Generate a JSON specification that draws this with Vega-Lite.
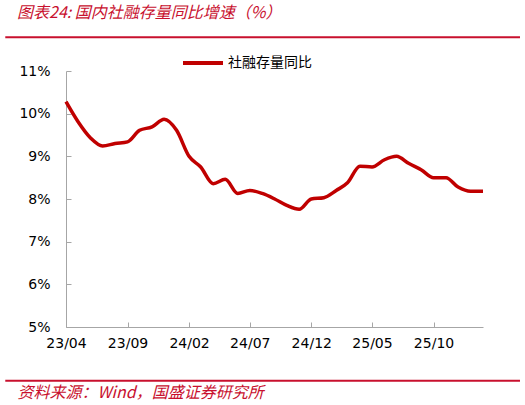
{
  "$schema": "https://vega.github.io/schema/vega-lite/v6.json",
  "width": 417,
  "height": 256,
  "autosize": {"type": "none"},
  "padding": {"left": 66, "top": 71, "right": 42, "bottom": 78},
  "background": "white",
  "config": {"view": {"stroke": null}, "font": "DejaVu Sans"},
  "title": {
    "text": "图表24: 国内社融存量同比增速（%）",
    "anchor": "start",
    "frame": "group",
    "dx": -49,
    "offset": 15,
    "font": "Noto Sans CJK SC",
    "fontSize": 16,
    "fontStyle": "italic",
    "fontWeight": "normal",
    "color": "#C8102E"
  },
  "layer": [
    {
      "data": {
        "values": [
          {"month": "2023-04-01", "v": 10.28},
          {"month": "2023-05-01", "v": 9.81},
          {"month": "2023-06-01", "v": 9.43},
          {"month": "2023-07-01", "v": 9.24},
          {"month": "2023-08-01", "v": 9.30},
          {"month": "2023-09-01", "v": 9.34},
          {"month": "2023-10-01", "v": 9.61},
          {"month": "2023-11-01", "v": 9.69},
          {"month": "2023-12-01", "v": 9.87},
          {"month": "2024-01-01", "v": 9.61},
          {"month": "2024-02-01", "v": 9.0},
          {"month": "2024-03-01", "v": 8.75},
          {"month": "2024-04-01", "v": 8.36},
          {"month": "2024-05-01", "v": 8.46},
          {"month": "2024-06-01", "v": 8.13},
          {"month": "2024-07-01", "v": 8.2},
          {"month": "2024-08-01", "v": 8.13},
          {"month": "2024-09-01", "v": 8.0},
          {"month": "2024-10-01", "v": 7.85},
          {"month": "2024-11-01", "v": 7.76},
          {"month": "2024-12-01", "v": 8.0},
          {"month": "2025-01-01", "v": 8.03},
          {"month": "2025-02-01", "v": 8.2},
          {"month": "2025-03-01", "v": 8.38},
          {"month": "2025-04-01", "v": 8.77},
          {"month": "2025-05-01", "v": 8.75},
          {"month": "2025-06-01", "v": 8.92},
          {"month": "2025-07-01", "v": 9.0},
          {"month": "2025-08-01", "v": 8.83},
          {"month": "2025-09-01", "v": 8.68},
          {"month": "2025-10-01", "v": 8.5},
          {"month": "2025-11-01", "v": 8.5},
          {"month": "2025-12-01", "v": 8.28},
          {"month": "2026-01-01", "v": 8.18},
          {"month": "2026-02-01", "v": 8.18}
        ]
      },
      "mark": {"type": "line", "interpolate": "monotone", "strokeWidth": 3.5},
      "encoding": {
        "x": {
          "field": "month",
          "type": "temporal",
          "scale": {
            "type": "utc",
            "domain": [
              {"year": 2023, "month": 4, "date": 1, "utc": true},
              {"year": 2026, "month": 2, "date": 1, "utc": true}
            ]
          },
          "axis": {
            "values": [
              {"year": 2023, "month": 4, "date": 1, "utc": true},
              {"year": 2023, "month": 9, "date": 1, "utc": true},
              {"year": 2024, "month": 2, "date": 1, "utc": true},
              {"year": 2024, "month": 7, "date": 1, "utc": true},
              {"year": 2024, "month": 12, "date": 1, "utc": true},
              {"year": 2025, "month": 5, "date": 1, "utc": true},
              {"year": 2025, "month": 10, "date": 1, "utc": true}
            ],
            "labelExpr": "utcFormat(datum.value, '%y/%m')",
            "grid": false,
            "domainColor": "#A6A6A6",
            "tickColor": "#A6A6A6",
            "tickSize": -5,
            "labelFontSize": 14,
            "labelColor": "#000000",
            "labelPadding": 14,
            "labelFlush": false,
            "title": "资料来源：Wind，国盛证券研究所",
            "titleAnchor": "start",
            "titleAlign": "left",
            "titleX": -49,
            "titleY": 65,
            "titleBaseline": "middle",
            "titleFont": "Noto Sans CJK SC",
            "titleFontSize": 16,
            "titleFontStyle": "italic",
            "titleFontWeight": "normal",
            "titleColor": "#C8102E"
          }
        },
        "y": {
          "field": "v",
          "type": "quantitative",
          "scale": {"domain": [5, 11], "nice": false},
          "axis": {
            "values": [5, 6, 7, 8, 9, 10, 11],
            "labelExpr": "datum.value + '%'",
            "grid": false,
            "domainColor": "#A6A6A6",
            "tickColor": "#A6A6A6",
            "tickSize": -5,
            "labelFontSize": 14,
            "labelColor": "#000000",
            "labelPadding": 21,
            "title": null
          }
        },
        "color": {
          "datum": "社融存量同比",
          "scale": {"range": ["#C00000"]},
          "legend": {
            "orient": "none",
            "legendX": 115,
            "legendY": -30,
            "title": null,
            "padding": 0,
            "symbolType": "stroke",
            "symbolSize": 1600,
            "symbolStrokeWidth": 4,
            "labelFont": "Noto Sans CJK SC",
            "labelFontSize": 14,
            "labelColor": "#000000",
            "labelOffset": 3
          }
        }
      }
    },
    {
      "data": {"values": [{}]},
      "mark": {"type": "rule", "color": "#C8102E", "strokeWidth": 2, "clip": false},
      "encoding": {
        "y": {"datum": 11.79},
        "x": {"datum": {"year": 2022, "month": 11, "date": 1, "utc": true}},
        "x2": {"datum": {"year": 2026, "month": 5, "date": 4, "utc": true}}
      }
    },
    {
      "data": {"values": [{}]},
      "mark": {"type": "rule", "color": "#C8102E", "strokeWidth": 2, "clip": false},
      "encoding": {
        "y": {"datum": 3.74},
        "x": {"datum": {"year": 2022, "month": 11, "date": 1, "utc": true}},
        "x2": {"datum": {"year": 2026, "month": 5, "date": 4, "utc": true}}
      }
    }
  ]
}
